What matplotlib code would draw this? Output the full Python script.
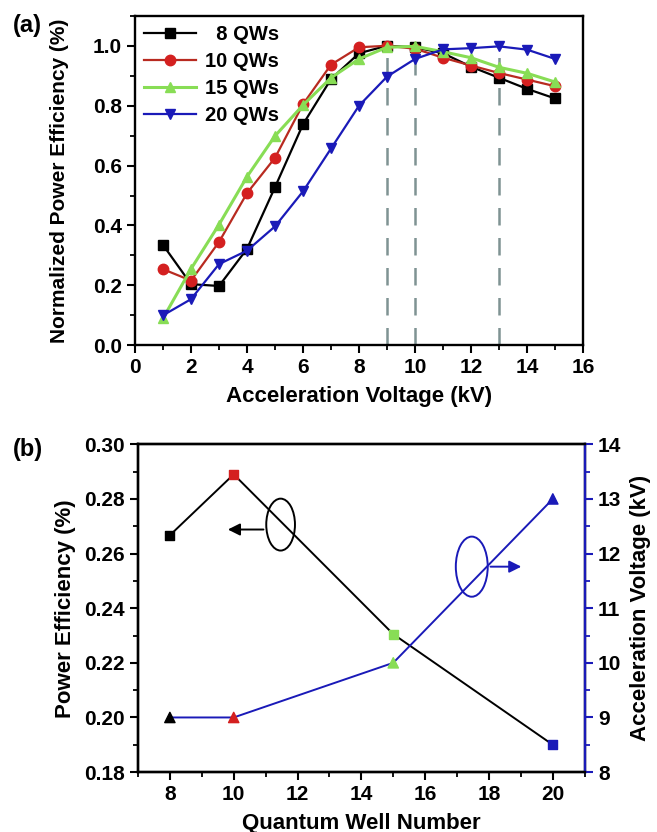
import matplotlib.pyplot as plt
from matplotlib import font_manager
from matplotlib.patches import Ellipse
from matplotlib.ticker import MultipleLocator

plt.rcParams['font.family'] = 'Liberation Sans'
plt.rcParams['font.weight'] = 'bold'
plt.rcParams['axes.labelweight'] = 'bold'

# the legend in the original looks condensed
names = set(f.name for f in font_manager.fontManager.ttflist)
if 'Liberation Sans Narrow' in names:
    legend_font = {'family': 'Liberation Sans Narrow', 'weight': 'bold', 'size': 17}
else:
    legend_font = {'family': 'Liberation Sans', 'weight': 'bold', 'size': 14.5}

# panel (a)
voltage = [1, 2, 3, 4, 5, 6, 7, 8, 9, 10, 11, 12, 13, 14, 15]
eff_8 = [0.335, 0.204, 0.198, 0.322, 0.528, 0.738, 0.889, 0.975, 1.0, 0.995, 0.975, 0.93, 0.893, 0.856, 0.824]
eff_10 = [0.254, 0.216, 0.345, 0.508, 0.626, 0.805, 0.937, 0.995, 1.0, 0.99, 0.96, 0.934, 0.909, 0.887, 0.865]
eff_15 = [0.09, 0.255, 0.403, 0.563, 0.699, 0.802, 0.893, 0.956, 0.995, 0.998, 0.98, 0.96, 0.928, 0.908, 0.879]
eff_20 = [0.10, 0.154, 0.271, 0.316, 0.397, 0.514, 0.657, 0.80, 0.897, 0.956, 0.988, 0.992, 0.998, 0.987, 0.956]
peak_voltage = [9, 10, 13]

# panel (b)
qw_number = [8, 10, 15, 20]
power_eff = [0.2667, 0.289, 0.2305, 0.19]
accel_voltage = [9, 9, 10, 13]
point_colors = ['black', '#d42020', '#88dd55', '#1a1ab8']

blue = '#1a1ab8'

fig = plt.figure(figsize=(6.57, 8.32), dpi=100)
ax1 = fig.add_axes([0.2055, 0.585, 0.682, 0.396])
ax2 = fig.add_axes([0.21, 0.072, 0.68, 0.394])

for xv in peak_voltage:
    ax1.plot([xv, xv], [0, 0.99], '--', color='#7f9393', lw=1.8, dashes=(7, 5), zorder=1)
ax1.plot(voltage, eff_8, '-s', color='black', ms=6.5, lw=1.6, label='  8 QWs', zorder=3)
ax1.plot(voltage, eff_10, '-o', color='#b82a20', mfc='#d42020', mec='#d42020', ms=7.5, lw=1.6, label='10 QWs', zorder=3)
ax1.plot(voltage, eff_15, '-^', color='#88dd55', ms=7.5, lw=2.2, label='15 QWs', zorder=3)
ax1.plot(voltage, eff_20, '-v', color=blue, ms=7.5, lw=1.6, label='20 QWs', zorder=3)

ax1.set_xlim(0, 16)
ax1.set_ylim(0, 1.1)
ax1.xaxis.set_major_locator(MultipleLocator(2))
ax1.xaxis.set_minor_locator(MultipleLocator(1))
ax1.yaxis.set_minor_locator(MultipleLocator(0.1))
ax1.set_yticks([0, 0.2, 0.4, 0.6, 0.8, 1.0])
ax1.set_xlabel('Acceleration Voltage (kV)', fontsize=16, labelpad=6)
ax1.set_ylabel('Normalized Power Efficiency (%)', fontsize=15, labelpad=17)
ax1.legend(loc='upper left', frameon=False, prop=legend_font, handlelength=2.6,
           borderaxespad=0.05, labelspacing=0.4, handletextpad=0.45)

ax2.plot(qw_number, power_eff, '-', color='black', lw=1.4, zorder=2)
ax2.scatter(qw_number, power_eff, marker='s', c=point_colors, s=40, zorder=3)
ax2.set_xlim(7, 21)
ax2.set_ylim(0.18, 0.30)
ax2.xaxis.set_major_locator(MultipleLocator(2))
ax2.xaxis.set_minor_locator(MultipleLocator(1))
ax2.yaxis.set_major_locator(MultipleLocator(0.02))
ax2.yaxis.set_minor_locator(MultipleLocator(0.01))
ax2.set_xlabel('Quantum Well Number', fontsize=16, labelpad=6)
ax2.set_ylabel('Power Efficiency (%)', fontsize=16, labelpad=6)

ax3 = ax2.twinx()
ax3.plot(qw_number, accel_voltage, '-', color=blue, lw=1.4, zorder=2)
ax3.scatter(qw_number, accel_voltage, marker='^', c=point_colors, s=55, zorder=3)
ax3.set_ylim(8, 14)
ax3.yaxis.set_major_locator(MultipleLocator(1))
ax3.yaxis.set_minor_locator(MultipleLocator(0.5))
ax3.set_ylabel('Acceleration Voltage (kV)', fontsize=16, labelpad=6)

# ellipses and arrows
ax2.add_patch(Ellipse((11.47, 0.2706), 0.9, 0.019, fill=False, ec='black', lw=1.4, zorder=4))
ax2.annotate('', xy=(9.73, 0.2688), xytext=(11.02, 0.2688),
             arrowprops=dict(arrowstyle='-|>', color='black', lw=1.4, mutation_scale=18))
ax3.add_patch(Ellipse((17.46, 11.76), 1.0, 1.1, fill=False, ec=blue, lw=1.4, zorder=4))
ax3.annotate('', xy=(19.1, 11.76), xytext=(17.96, 11.76),
             arrowprops=dict(arrowstyle='-|>', color=blue, lw=1.4, mutation_scale=18))

for ax in (ax1, ax2, ax3):
    ax.tick_params(which='major', direction='out', length=6, width=1.5, labelsize=15)
    ax.tick_params(which='minor', direction='out', length=3.5, width=1.3)
    for s in ax.spines.values():
        s.set_linewidth(1.7)
ax3.spines['right'].set_color(blue)
ax3.tick_params(axis='y', which='both', colors=blue, labelcolor='black')
ax1.tick_params(top=False, right=False)
ax2.tick_params(top=False, right=False)

fig.text(0.02, 0.9615, '(a)', fontsize=17, fontweight='bold', va='baseline')
fig.text(0.02, 0.452, '(b)', fontsize=17, fontweight='bold', va='baseline')

fig.savefig('out.png', dpi=100)
